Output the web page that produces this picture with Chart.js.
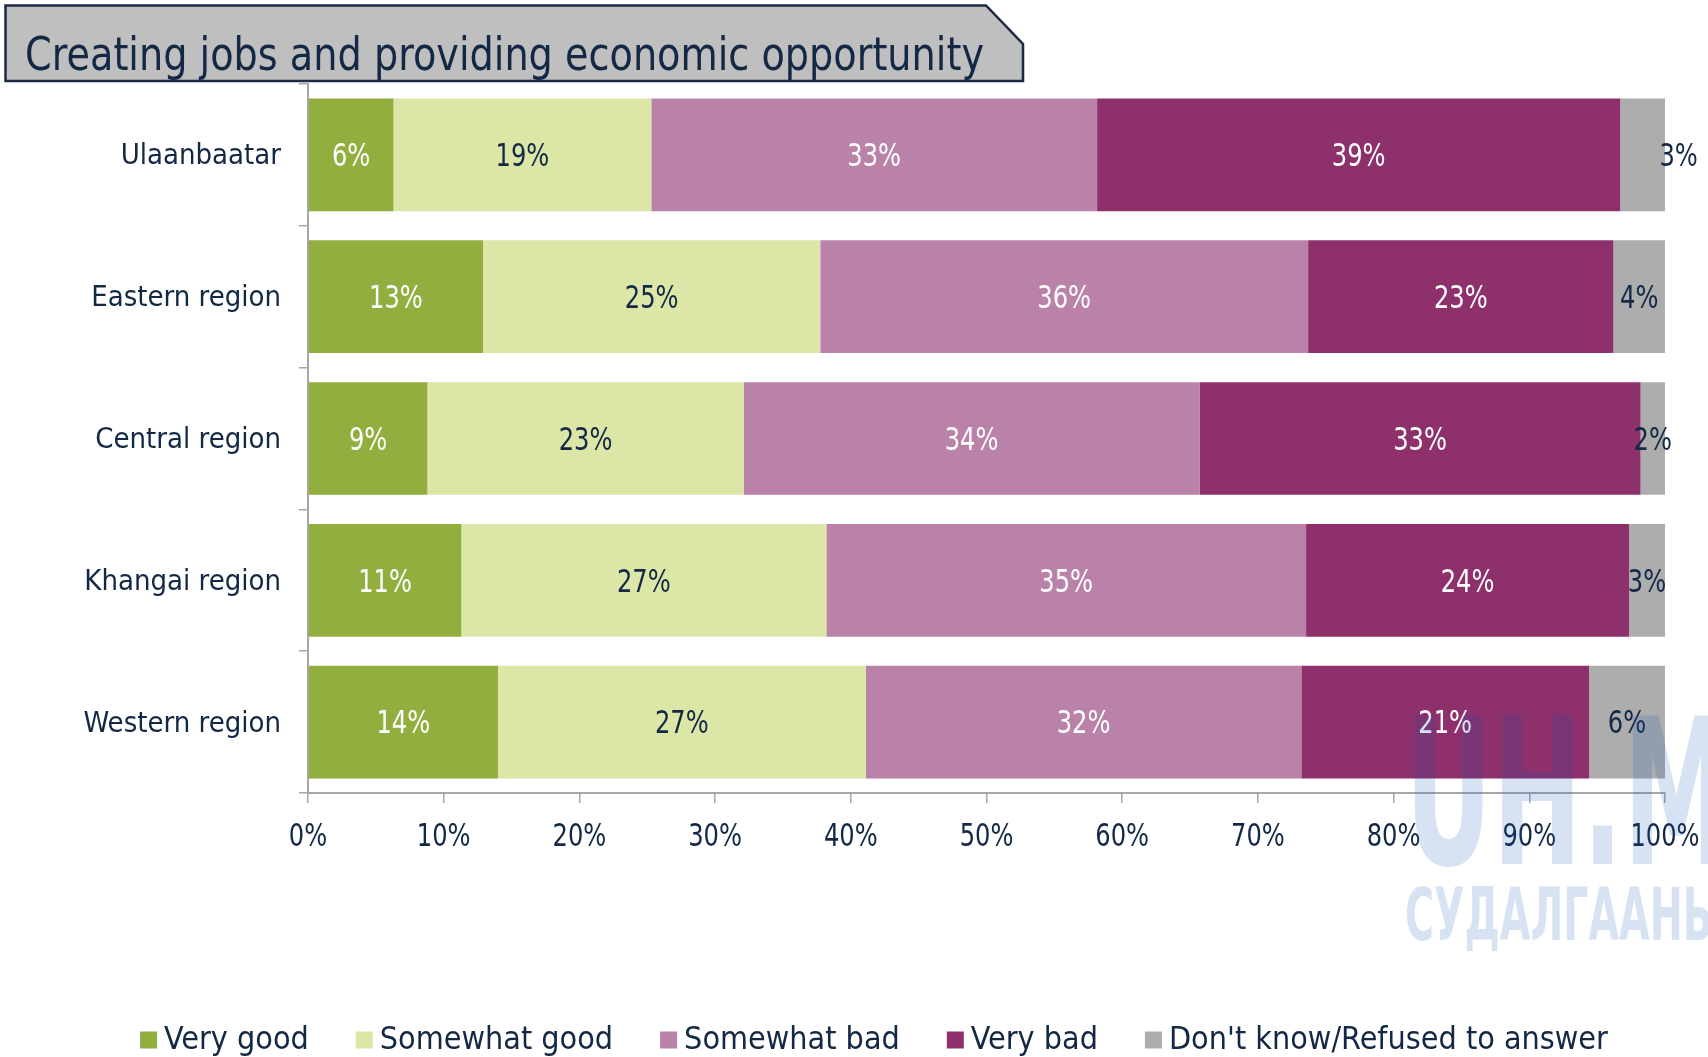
<!DOCTYPE html>
<html>
<head>
<meta charset="utf-8">
<script src="https://cdn.jsdelivr.net/npm/chart.js@4.4.0/dist/chart.umd.min.js"></script>
<style>
  html, body { margin: 0; padding: 0; background: #fff; }
  #wrap { position: relative; width: 1708px; height: 1057px; }
</style>
</head>
<body>
<div id="wrap"><canvas id="chart" width="1708" height="1057"></canvas></div>
<script>
// ── Dados ───────────────────────────────────────────────
const TITLE = 'Creating jobs and providing economic opportunity';
const categories   = ['Ulaanbaatar', 'Eastern region', 'Central region', 'Khangai region', 'Western region'];
const seriesNames  = ['Very good', 'Somewhat good', 'Somewhat bad', 'Very bad', "Don't know/Refused to answer"];
const veryGood     = [6.3, 12.9, 8.8, 11.3, 14.0];
const somewhatGood = [19.0, 24.85, 23.3, 26.9, 27.1];
const somewhatBad  = [32.85, 35.95, 33.6, 35.35, 32.1];
const veryBad      = [38.55, 22.5, 32.5, 23.8, 21.2];
const dontKnow     = [3.3, 3.8, 1.8, 2.65, 5.6];
const xTicks       = [0, 10, 20, 30, 40, 50, 60, 70, 80, 90, 100];

// ── Estilo ──────────────────────────────────────────────
const NAVY   = '#132845';
const AXIS   = '#A6A6AC';
const CORES  = ['#92AE3F', '#DCE6A7', '#BA82A8', '#8E306B', '#ADADAE'];
const CORES_TXT = ['#ffffff', NAVY, '#ffffff', '#ffffff', NAVY];
const F_TXT  = '"DejaVu Sans Condensed", "DejaVu Sans", sans-serif';
const NUM_PX = 32;     // números: fonte mais alta e comprimida na horizontal
const NUM_SX = 0.84;

const valores = [veryGood, somewhatGood, somewhatBad, veryBad, dontKnow];

function textoEstreito(ctx, txt, x, y) {
  ctx.save();
  ctx.translate(x, y);
  ctx.scale(NUM_SX, 1);
  ctx.fillText(txt, 0, 0);
  ctx.restore();
}

// Título com o canto recortado
const tituloPlugin = {
  id: 'titulo',
  afterDraw(chart) {
    const ctx = chart.ctx;
    ctx.save();
    ctx.beginPath();
    ctx.moveTo(5.5, 5.5);
    ctx.lineTo(986, 5.5);
    ctx.lineTo(1023, 44);
    ctx.lineTo(1023, 81);
    ctx.lineTo(5.5, 81);
    ctx.closePath();
    ctx.fillStyle = '#BFBFBF';
    ctx.fill();
    ctx.lineWidth = 2.5;
    ctx.strokeStyle = '#1B2A41';
    ctx.stroke();
    ctx.fillStyle = NAVY;
    ctx.font = '46px ' + F_TXT;
    ctx.textBaseline = 'alphabetic';
    ctx.textAlign = 'left';
    ctx.fillText(TITLE, 25, 70, 959);
    ctx.restore();
  }
};

// Rótulos de percentagem dentro das barras + rótulos do eixo x
const rotulosPlugin = {
  id: 'rotulos',
  afterDatasetsDraw(chart) {
    const ctx = chart.ctx;
    const nudge = { '4-0': 36 }; // o 3% de Ulaanbaatar fica fora da barra
    ctx.save();
    ctx.font = NUM_PX + 'px ' + F_TXT;
    ctx.textAlign = 'center';
    ctx.textBaseline = 'middle';
    chart.data.datasets.forEach((ds, i) => {
      chart.getDatasetMeta(i).data.forEach((bar, j) => {
        const p = bar.getProps(['x', 'y', 'base'], true);
        const cx = (p.x + p.base) / 2 + (nudge[i + '-' + j] || 0);
        ctx.fillStyle = CORES_TXT[i];
        textoEstreito(ctx, Math.round(ds.data[j]) + '%', cx, p.y + 3);
      });
    });

    // eixo x
    const sx = chart.scales.x;
    ctx.fillStyle = NAVY;
    sx.ticks.forEach(t => {
      textoEstreito(ctx, t.value + '%', sx.getPixelForValue(t.value), sx.top + 45);
    });
    ctx.restore();
  }
};

// Legenda em linha, desenhada à mão
const legendaPlugin = {
  id: 'legenda',
  afterDraw(chart) {
    const ctx = chart.ctx;
    const box = 17, gapTxt = 7, gapItem = 47, cy = 1040, centro = 874;
    ctx.save();
    ctx.font = '32px ' + F_TXT;
    const larg = chart.data.datasets.map(d => ctx.measureText(d.label).width);
    const total = larg.reduce((s, w) => s + box + gapTxt + w, 0) + gapItem * (larg.length - 1);
    let x = centro - total / 2;
    ctx.textBaseline = 'middle';
    ctx.textAlign = 'left';
    chart.data.datasets.forEach((d, i) => {
      ctx.fillStyle = d.backgroundColor;
      ctx.fillRect(x, cy - box / 2, box, box);
      ctx.fillStyle = NAVY;
      ctx.fillText(d.label, x + box + gapTxt, cy + 1);
      x += box + gapTxt + larg[i] + gapItem;
    });
    ctx.restore();
  }
};

// Marca d'água do site (canto inferior direito)
const marcaPlugin = {
  id: 'marca',
  afterDraw(chart) {
    const ctx = chart.ctx;
    const cor = 'rgba(20, 90, 180, 0.17)';
    ctx.save();
    ctx.fillStyle = cor;
    ctx.font = 'bold 100px ' + F_TXT;
    ctx.textBaseline = 'alphabetic';
    ctx.textAlign = 'left';
    let w = ctx.measureText('UH.M').width;
    ctx.translate(1405, 864);
    ctx.scale(325 / w, 148 / 72.9);
    ctx.fillText('UH.MN', 0, 0);
    ctx.restore();
    ctx.save();
    ctx.fillStyle = cor;
    ctx.font = 'bold 100px ' + F_TXT;
    w = ctx.measureText('СУДАЛГААНЬ').width;
    ctx.translate(1405, 940);
    ctx.scale(308 / w, 53 / 72.9);
    ctx.fillText('СУДАЛГААНЬ', 0, 0);
    ctx.restore();
  }
};

const datasets = seriesNames.map((nome, i) => ({
  label: nome,
  data: valores[i],
  backgroundColor: CORES[i],
  borderWidth: 0,
  barPercentage: 0.795,
  categoryPercentage: 1.0,
}));

new Chart(document.getElementById('chart'), {
  type: 'bar',
  data: { labels: categories, datasets },
  options: {
    indexAxis: 'y',
    responsive: false,
    animation: false,
    layout: { padding: { top: 84, right: 43, bottom: 204, left: 0 } },
    plugins: {
      legend: { display: false },
      title: { display: false },
      tooltip: { enabled: false },
    },
    scales: {
      x: {
        stacked: true,
        min: 0, max: 100,
        afterBuildTicks: s => { s.ticks = xTicks.map(v => ({ value: v })); },
        afterFit: s => { s.height = 60; s.paddingLeft = 0; s.paddingRight = 0; },
        ticks: {
          callback: v => v + '%',
          color: 'rgba(0,0,0,0)', // desenhados no plugin, mais estreitos
          font: { family: F_TXT, size: 20 },
          padding: 8,
          maxRotation: 0,
        },
        grid: { drawOnChartArea: false, drawTicks: true, tickLength: 10, color: AXIS, lineWidth: 1.5 },
        border: { display: true, color: AXIS, width: 2 },
      },
      y: {
        stacked: true,
        afterFit: s => { s.width = 308; },
        ticks: {
          color: NAVY,
          font: { family: F_TXT, size: 29 },
          padding: 18,
          labelOffset: 2,
        },
        grid: { drawOnChartArea: false, drawTicks: true, tickLength: 9, color: AXIS, lineWidth: 1.5, offset: true },
        border: { display: true, color: AXIS, width: 2 },
      },
    },
  },
  plugins: [rotulosPlugin, marcaPlugin, tituloPlugin, legendaPlugin],
});
</script>
</body>
</html>
